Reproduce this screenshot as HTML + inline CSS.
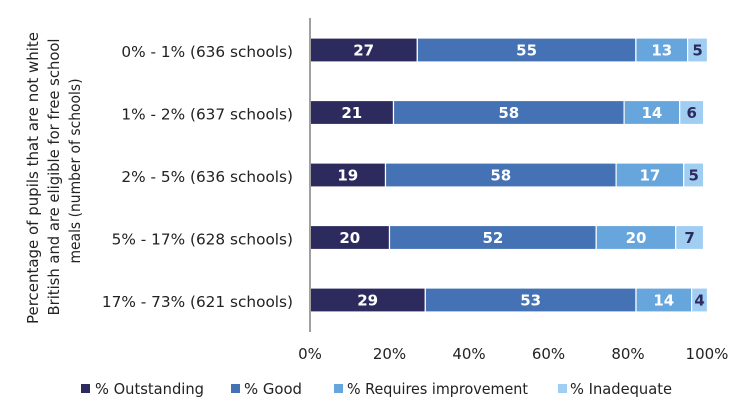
<!DOCTYPE html>
<html><head><meta charset="utf-8"><style>
html,body{margin:0;padding:0;background:#fff;}
svg{display:block;}
text{font-family:"DejaVu Sans","Liberation Sans",sans-serif;}
</style></head><body>
<svg width="749" height="413" viewBox="0 0 749 413" xmlns="http://www.w3.org/2000/svg">
<rect width="749" height="413" fill="#fff"/>
<!-- y axis title -->
<g font-size="15" fill="#222" text-anchor="middle">
<text transform="translate(38,178) rotate(-90)" textLength="292" lengthAdjust="spacingAndGlyphs">Percentage of pupils that are not white</text>
<text transform="translate(59,177) rotate(-90)" textLength="277" lengthAdjust="spacingAndGlyphs">British and are eligible for free school</text>
<text transform="translate(80,171) rotate(-90)" textLength="185" lengthAdjust="spacingAndGlyphs">meals (number of schools)</text>
</g>
<!-- category labels -->
<g font-size="15.3" fill="#222" text-anchor="end">
<text x="293" y="57">0% - 1% (636 schools)</text>
<text x="293" y="119.5">1% - 2% (637 schools)</text>
<text x="293" y="182">2% - 5% (636 schools)</text>
<text x="293" y="244.5">5% - 17% (628 schools)</text>
<text x="293" y="307">17% - 73% (621 schools)</text>
</g>
<!-- bars -->
<g stroke="#fff" stroke-width="1.2">
<rect x="310" y="38" width="107.3" height="24" fill="#2d2b5e"/>
<rect x="417.3" y="38" width="218.6" height="24" fill="#4472b4"/>
<rect x="635.9" y="38" width="51.7" height="24" fill="#67a6dd"/>
<rect x="687.6" y="38" width="19.9" height="24" fill="#a0cdf2"/>
<rect x="310" y="100.5" width="83.5" height="24" fill="#2d2b5e"/>
<rect x="393.5" y="100.5" width="230.6" height="24" fill="#4472b4"/>
<rect x="624.1" y="100.5" width="55.6" height="24" fill="#67a6dd"/>
<rect x="679.7" y="100.5" width="23.9" height="24" fill="#a0cdf2"/>
<rect x="310" y="163" width="75.5" height="24" fill="#2d2b5e"/>
<rect x="385.5" y="163" width="230.6" height="24" fill="#4472b4"/>
<rect x="616.1" y="163" width="67.6" height="24" fill="#67a6dd"/>
<rect x="683.7" y="163" width="19.9" height="24" fill="#a0cdf2"/>
<rect x="310" y="225.5" width="79.5" height="24" fill="#2d2b5e"/>
<rect x="389.5" y="225.5" width="206.7" height="24" fill="#4472b4"/>
<rect x="596.2" y="225.5" width="79.5" height="24" fill="#67a6dd"/>
<rect x="675.7" y="225.5" width="27.8" height="24" fill="#a0cdf2"/>
<rect x="310" y="288" width="115.3" height="24" fill="#2d2b5e"/>
<rect x="425.3" y="288" width="210.7" height="24" fill="#4472b4"/>
<rect x="636" y="288" width="55.6" height="24" fill="#67a6dd"/>
<rect x="691.6" y="288" width="15.9" height="24" fill="#a0cdf2"/>
</g>
<!-- value labels -->
<g font-size="15" font-weight="bold" text-anchor="middle" fill="#fff">
<text x="363.7" y="55.5">27</text><text x="526.6" y="55.5">55</text><text x="661.8" y="55.5">13</text>
<text x="351.8" y="118">21</text><text x="508.8" y="118">58</text><text x="651.9" y="118">14</text>
<text x="347.8" y="180.5">19</text><text x="500.8" y="180.5">58</text><text x="649.9" y="180.5">17</text>
<text x="349.8" y="243">20</text><text x="492.9" y="243">52</text><text x="636" y="243">20</text>
<text x="367.7" y="305.5">29</text><text x="530.7" y="305.5">53</text><text x="663.8" y="305.5">14</text>
</g>
<g font-size="15" font-weight="bold" text-anchor="middle" fill="#2d2b5e">
<text x="697.6" y="55.5">5</text>
<text x="691.7" y="118">6</text>
<text x="693.7" y="180.5">5</text>
<text x="689.6" y="243">7</text>
<text x="699.6" y="305.5">4</text>
</g>
<!-- axis line -->
<line x1="310" y1="18" x2="310" y2="332" stroke="#a0a0a0" stroke-width="2"/>
<!-- x tick labels -->
<g font-size="15" fill="#222" text-anchor="middle">
<text x="310" y="359">0%</text>
<text x="389.5" y="359">20%</text>
<text x="469" y="359">40%</text>
<text x="548.5" y="359">60%</text>
<text x="628" y="359">80%</text>
<text x="707" y="359">100%</text>
</g>
<!-- legend -->
<g font-size="14.8" fill="#222">
<rect x="81" y="384" width="9" height="9" fill="#2d2b5e"/>
<text x="95" y="394" textLength="109" lengthAdjust="spacingAndGlyphs">% Outstanding</text>
<rect x="231" y="384" width="9" height="9" fill="#4472b4"/>
<text x="244" y="394" textLength="58" lengthAdjust="spacingAndGlyphs">% Good</text>
<rect x="334" y="384" width="9" height="9" fill="#67a6dd"/>
<text x="347" y="394" textLength="181" lengthAdjust="spacingAndGlyphs">% Requires improvement</text>
<rect x="558" y="384" width="9" height="9" fill="#a0cdf2"/>
<text x="570" y="394" textLength="102" lengthAdjust="spacingAndGlyphs">% Inadequate</text>
</g>
</svg>
</body></html>
